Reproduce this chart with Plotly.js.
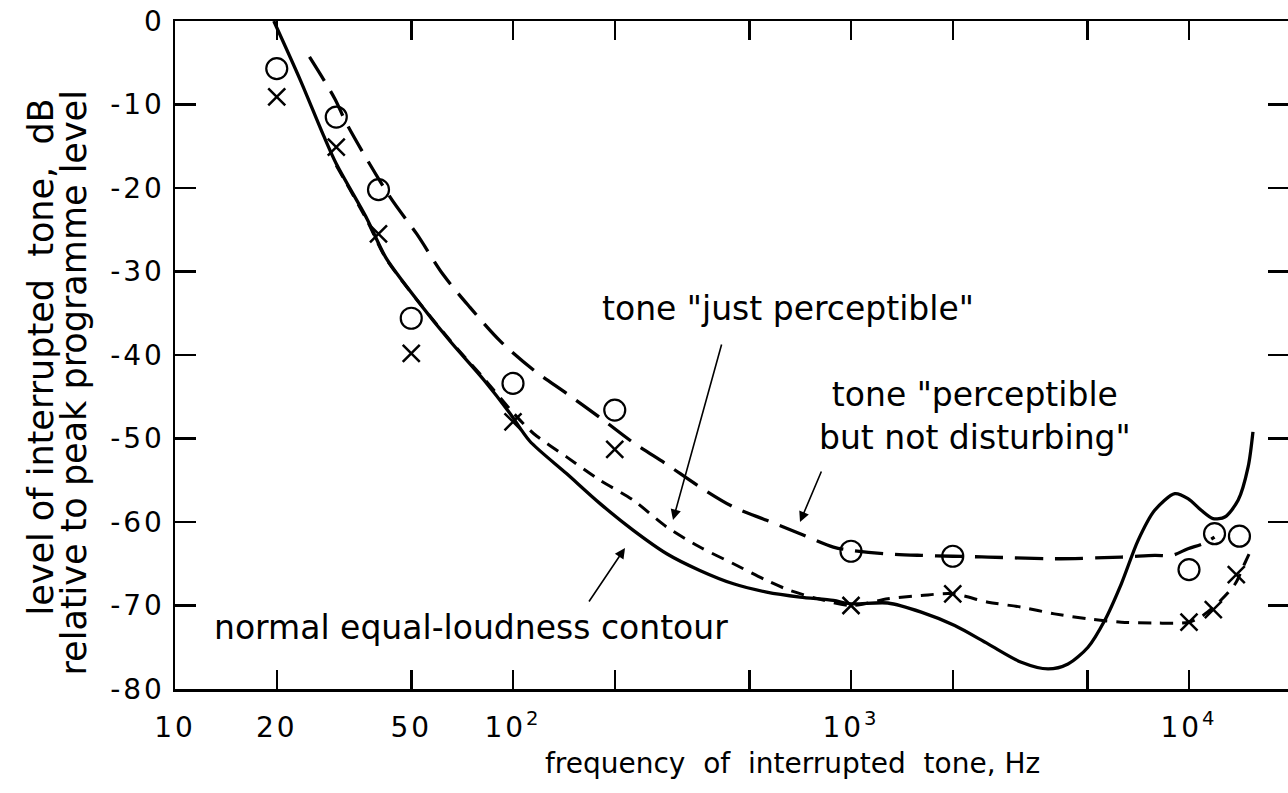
<!DOCTYPE html>
<html>
<head>
<meta charset="utf-8">
<script src="https://cdn.plot.ly/plotly-3.0.1.min.js"></script>
<style>
  html, body { margin: 0; padding: 0; background: #ffffff; }
  #chart { width: 1288px; height: 793px; }
  .xtick text, .ytick text { letter-spacing: 3px; }
</style>
</head>
<body>
<div id="chart"></div>
<script>
// ---------------- data ----------------
// normal equal-loudness contour (solid)
const solidFreq  = [19.6, 23.5, 27.5, 30, 37, 42, 52, 65, 82, 98, 112, 144, 181, 227, 285, 357, 449, 563, 707, 887, 1000, 1285, 1614, 2027, 2543, 3191, 3828, 4386, 5026, 5630, 6306, 7070, 7914, 9080, 9930, 10870, 11780, 12760, 13970, 14960, 15460];
const solidLevel = [0, -7.1, -13.7, -17.1, -23.7, -28.3, -33.4, -38.3, -43.0, -47.0, -50.3, -54.2, -57.8, -61.0, -63.8, -65.8, -67.4, -68.4, -69.0, -69.4, -69.8, -69.7, -70.8, -72.4, -74.6, -76.8, -77.6, -77.0, -75.0, -71.8, -67.4, -62.2, -58.6, -56.6, -57.2, -58.6, -59.6, -59.4, -57.4, -53.4, -49.2];

// tone "just perceptible" (short dashes)
const justFreq  = [30, 37, 42, 52, 65, 82, 100, 115, 144, 181, 227, 285, 357, 449, 563, 660, 800, 1000, 1285, 1614, 2000, 2543, 3191, 4000, 5026, 6306, 7914, 10000, 11000, 12400, 13700, 14600, 15400];
const justLevel = [-17.3, -23.9, -28.4, -33.4, -38.2, -42.8, -46.9, -49.4, -52.2, -55.0, -57.4, -60.6, -63.0, -65.0, -67.0, -68.2, -69.2, -70.0, -69.2, -68.8, -68.6, -69.6, -70.2, -71.0, -71.6, -72.0, -72.1, -72.0, -71.2, -69.4, -67.4, -65.0, -63.0];

// tone "perceptible but not disturbing" (long dashes)
const notDistFreq  = [25, 29.7, 32.2, 43.3, 51.9, 62.2, 74.6, 92, 115, 144, 181, 227, 285, 357, 449, 563, 707, 887, 1000, 1250, 1614, 2000, 2543, 4000, 6306, 7914, 8900, 9930, 11000, 11900];
const notDistLevel = [-4.3, -9.3, -12.3, -21.1, -25.5, -30.4, -34.3, -38.4, -41.8, -44.6, -47.5, -50.5, -53.1, -55.8, -58.2, -59.8, -61.4, -63.0, -63.4, -63.8, -64.0, -64.1, -64.2, -64.4, -64.2, -64.0, -64.0, -63.2, -62.6, -61.8];

// measured points
const circleFreq  = [20, 30, 40, 50, 100, 200, 1000, 2000, 10000, 11900, 14100];
const circleLevel = [-5.7, -11.5, -20.2, -35.6, -43.4, -46.6, -63.5, -64.1, -65.7, -61.4, -61.7];
const crossFreq   = [20, 30, 40, 50, 100, 200, 1000, 2000, 10000, 11800, 13800];
const crossLevel  = [-9.1, -15.1, -25.5, -39.8, -48.0, -51.3, -70.0, -68.6, -72.0, -70.5, -66.3];

// axis ticks
const xTickVals = [10, 20, 50, 100, 200, 500, 1000, 2000, 5000, 10000];
const xTickText = ['10', '20', '50', '10<sup>2</sup>', ' ', ' ', '10<sup>3</sup>', ' ', ' ', '10<sup>4</sup>'];
const yTickVals = [0, -10, -20, -30, -40, -50, -60, -70, -80];
const yTickText = ['0', '-10', '-20', '-30', '-40', '-50', '-60', '-70', '-80'];
const yRightTickVals = [-10, -20, -30, -40, -50, -60, -70];

// ---------------- layout helpers ----------------
const FONT = 'DejaVu Sans, Arial, sans-serif';
const L = 175, T = 21, W = 1113, H = 668;
function px(x) { return (x - L) / W; }
function py(y) { return (T + H - y) / H; }

const traces = [
  { x: solidFreq, y: solidLevel, mode: 'lines', type: 'scatter',
    line: { color: '#000', width: 3.3, shape: 'spline', smoothing: 0.8 }, hoverinfo: 'skip' },
  { x: justFreq, y: justLevel, mode: 'lines', type: 'scatter',
    line: { color: '#000', width: 3, shape: 'spline', smoothing: 0.8, dash: '13px,9px' }, hoverinfo: 'skip' },
  { x: notDistFreq, y: notDistLevel, mode: 'lines', type: 'scatter',
    line: { color: '#000', width: 3.3, shape: 'spline', smoothing: 0.9, dash: '28px,12px' }, hoverinfo: 'skip' },
  { x: circleFreq, y: circleLevel, mode: 'markers', type: 'scatter',
    marker: { symbol: 'circle-open', size: 21, color: '#000', line: { width: 2.2, color: '#000' } } },
  { x: crossFreq, y: crossLevel, mode: 'markers', type: 'scatter',
    marker: { symbol: 'x-thin-open', size: 17, color: '#000', line: { width: 2.5, color: '#000' } } },
  // helper so the right-hand tick axis is drawn
  { x: circleFreq, y: circleLevel, yaxis: 'y2', mode: 'markers', type: 'scatter',
    marker: { opacity: 0 }, hoverinfo: 'skip' }
];

function txt(text, x, y, size, extra) {
  return Object.assign({ text: text, x: px(x), y: py(y), xref: 'paper', yref: 'paper',
    xanchor: 'center', yanchor: 'middle',
    showarrow: false, font: { family: FONT, size: size, color: '#000' } }, extra || {});
}
function arrow(hx, hy, tx, ty) {
  return { text: '', x: px(hx), y: py(hy), xref: 'paper', yref: 'paper', showarrow: true,
    ax: tx - hx, ay: ty - hy, arrowhead: 2, arrowsize: 1.3, arrowwidth: 1.6, arrowcolor: '#000', standoff: 0 };
}

const annotations = [
  txt('tone "just perceptible"', 788, 309, 33),
  txt('tone "perceptible<br>but not disturbing"', 975, 416, 33, { align: 'center' }),
  txt('normal equal-loudness contour', 471, 627, 33),
  txt('frequency\u00a0\u00a0of\u00a0\u00a0interrupted\u00a0\u00a0tone,\u00a0Hz', 792, 764, 28),
  txt('level\u00a0of\u00a0interrupted\u00a0 tone,\u00a0 dB', 40, 97, 35, { textangle: -90, yanchor: 'top' }),
  txt('relative to peak programme level', 73, 89, 35, { textangle: -90, yanchor: 'top' }),
  arrow(673, 520, 722, 343),
  arrow(800, 522, 822, 470),
  arrow(625, 548, 588, 603)
];

const layout = {
  width: 1288, height: 793,
  margin: { l: L, r: 1288 - L - W, t: T, b: 793 - T - H },
  paper_bgcolor: '#fff', plot_bgcolor: '#fff',
  showlegend: false,
  xaxis: {
    type: 'log', range: [1, 1 + 1113 / 338],
    tickmode: 'array', tickvals: xTickVals, ticktext: xTickText,
    ticks: 'inside', ticklen: 19, tickwidth: 2.5, tickcolor: '#000',
    showline: true, linewidth: 2.5, linecolor: '#000', mirror: 'ticks',
    showgrid: false, zeroline: false,
    tickfont: { family: FONT, size: 28, color: '#000' }, ticklabelstandoff: 12
  },
  yaxis: {
    range: [-80, 0], tickmode: 'array', tickvals: yTickVals, ticktext: yTickText,
    ticks: 'inside', ticklen: 21, tickwidth: 2.5, tickcolor: '#000',
    showline: true, linewidth: 2.5, linecolor: '#000', mirror: false,
    showgrid: false, zeroline: false,
    tickfont: { family: FONT, size: 28, color: '#000' }, ticklabelstandoff: 2
  },
  yaxis2: {
    overlaying: 'y', side: 'right', matches: 'y', anchor: 'x',
    tickmode: 'array', tickvals: yRightTickVals,
    ticks: 'inside', ticklen: 20, tickwidth: 2.5, tickcolor: '#000',
    showticklabels: false, showline: false, showgrid: false, zeroline: false
  },
  annotations: annotations
};

Plotly.newPlot('chart', traces, layout, { staticPlot: true, displayModeBar: false });
</script>
</body>
</html>
